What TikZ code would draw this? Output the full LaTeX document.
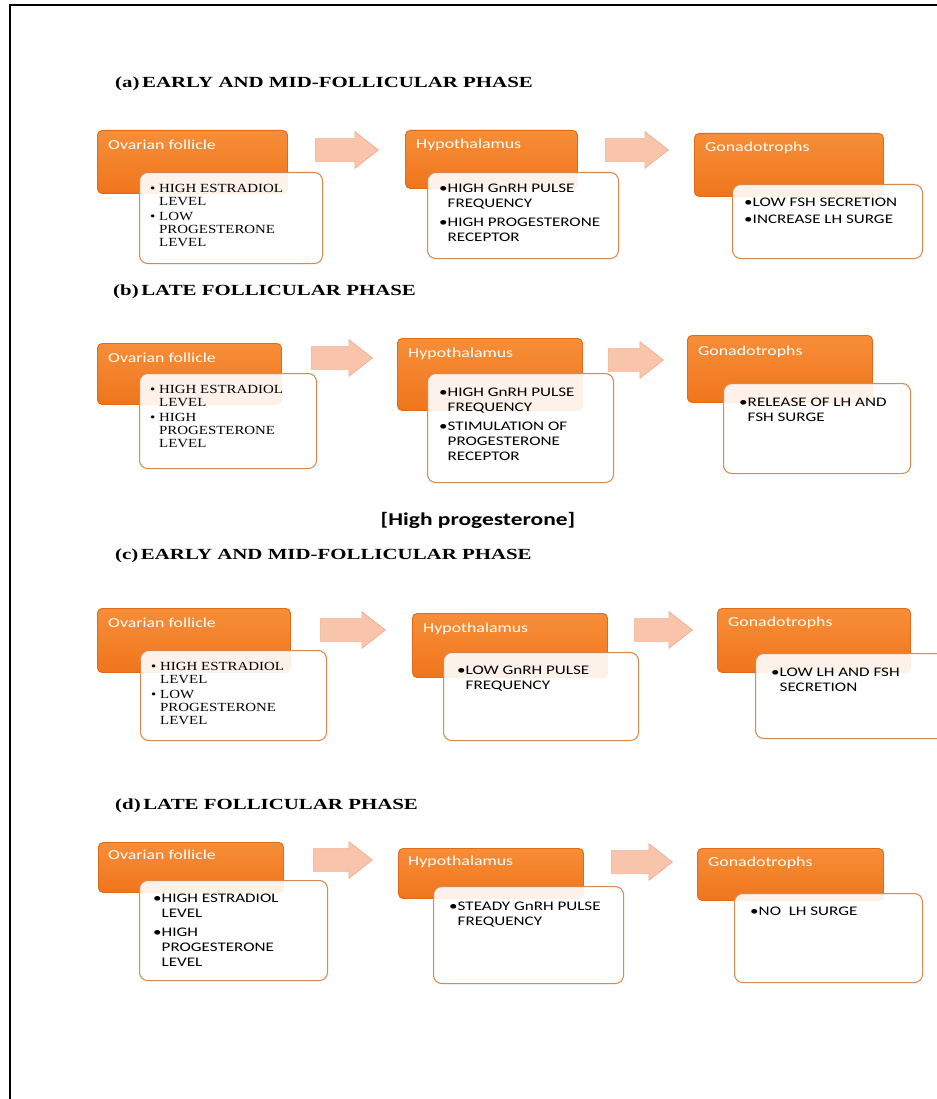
\documentclass[tikz,border=0pt]{standalone}
\usepackage{fontspec}
\usetikzlibrary{shapes.arrows}
\setmainfont{Liberation Serif}
\newfontfamily\boxfont[FakeStretch=1.3]{Carlito}
\newfontfamily\serfont[FakeStretch=1.2]{Liberation Serif}
\newfontfamily\headfont[FakeStretch=1.35]{Liberation Serif}
\newdimen\pxu \pxu=0.03cm

\definecolor{orangetop}{RGB}{247,142,56}
\definecolor{orangebot}{RGB}{239,117,28}
\definecolor{orangeedge}{RGB}{226,106,20}
\definecolor{wedge}{RGB}{218,136,78}
\definecolor{arrowfill}{RGB}{249,196,172}
\definecolor{arrowedge}{RGB}{242,174,146}

\tikzset{
  obox/.style={draw=orangeedge, line width=0.8pt, top color=orangetop, bottom color=orangebot,
    rounded corners=4pt, anchor=north west, inner sep=0pt},
  otitle/.style={anchor=west, inner sep=0pt, text=white, font=\boxfont\fontsize{11.7}{14}\selectfont},
  wbox/.style={draw=wedge, line width=0.9pt, fill=white, fill opacity=0.9, rounded corners=7pt,
    anchor=north west, inner sep=0pt},
  slist/.style={anchor=north west, inner sep=0pt, align=left, font=\boxfont\fontsize{11.2}{13}\selectfont},
  rlist/.style={anchor=north west, inner sep=0pt, align=left, font=\serfont\fontsize{10.6}{11}\selectfont},
  harrow/.style={single arrow, draw=arrowedge, fill=arrowfill, line width=0.6pt, anchor=west,
    inner xsep=0pt, inner ysep=11\pxu, single arrow head extend=7\pxu, single arrow tip angle=76},
  phase/.style={anchor=west, inner sep=0pt, font=\headfont\bfseries\fontsize{13.2}{16}\selectfont},
}

\begin{document}
\begin{tikzpicture}[x=0.03cm, y=-0.03cm]
  \useasboundingbox (0,0) rectangle (937,1099);
  \draw[line width=2\pxu] (10,1099) -- (10,5) -- (937,5);

  % (a) early and mid-follicular phase
  \node[phase] (head-a) at (115,84) {(a)\,EARLY AND MID-FOLLICULAR PHASE};
  \node[obox, minimum width=190\pxu, minimum height=63\pxu] (fol-a) at (97,130) {};
  \node[otitle] (fol-a-t) at ([xshift=11\pxu, yshift=-15\pxu]fol-a.north west) {Ovarian follicle};
  \node[wbox, minimum width=183\pxu, minimum height=91\pxu] (fol-a-w) at (139,172) {};
  \node[rlist] (fol-a-l) at ([xshift=11\pxu, yshift=-12\pxu]fol-a-w.north west)
    {\textbullet\ HIGH ESTRADIOL\\\phantom{\textbullet\ }LEVEL\\[2\pxu]\textbullet\ LOW\\\phantom{\textbullet\ }PROGESTERONE\\\phantom{\textbullet\ }LEVEL};
  \node[harrow, minimum height=63\pxu] (arr-a1) at (315,150) {};
  \node[obox, minimum width=172\pxu, minimum height=58\pxu] (hyp-a) at (405,130) {};
  \node[otitle] (hyp-a-t) at ([xshift=11\pxu, yshift=-15\pxu]hyp-a.north west) {Hypothalamus};
  \node[wbox, minimum width=191\pxu, minimum height=86\pxu] (hyp-a-w) at (427,172) {};
  \node[slist] (hyp-a-l) at ([xshift=12\pxu, yshift=-12\pxu]hyp-a-w.north west)
    {\textbullet HIGH GnRH PULSE\\\phantom{\textbullet}FREQUENCY\\[3\pxu]\textbullet HIGH PROGESTERONE\\\phantom{\textbullet}RECEPTOR};
  \node[harrow, minimum height=63\pxu] (arr-a2) at (605,150) {};
  \node[obox, minimum width=189\pxu, minimum height=63\pxu] (gon-a) at (694,133) {};
  \node[otitle] (gon-a-t) at ([xshift=11\pxu, yshift=-15\pxu]gon-a.north west) {Gonadotrophs};
  \node[wbox, minimum width=190\pxu, minimum height=74\pxu] (gon-a-w) at (732,184) {};
  \node[slist] (gon-a-l) at ([xshift=12\pxu, yshift=-14\pxu]gon-a-w.north west)
    {\textbullet LOW FSH SECRETION\\[2\pxu]\textbullet INCREASE LH SURGE};

  % (b) late follicular phase
  \node[phase] (head-b) at (113,292) {(b)\,LATE FOLLICULAR PHASE};
  \node[obox, minimum width=184\pxu, minimum height=61\pxu] (fol-b) at (97,343) {};
  \node[otitle] (fol-b-t) at ([xshift=11\pxu, yshift=-15\pxu]fol-b.north west) {Ovarian follicle};
  \node[wbox, minimum width=177\pxu, minimum height=95\pxu] (fol-b-w) at (139,373) {};
  \node[rlist] (fol-b-l) at ([xshift=11\pxu, yshift=-12\pxu]fol-b-w.north west)
    {\textbullet\ HIGH ESTRADIOL\\\phantom{\textbullet\ }LEVEL\\[2\pxu]\textbullet\ HIGH\\\phantom{\textbullet\ }PROGESTERONE\\\phantom{\textbullet\ }LEVEL};
  \node[harrow, minimum height=61\pxu] (arr-b1) at (311,358) {};
  \node[obox, minimum width=185\pxu, minimum height=72\pxu] (hyp-b) at (397,338) {};
  \node[otitle] (hyp-b-t) at ([xshift=11\pxu, yshift=-16\pxu]hyp-b.north west) {Hypothalamus};
  \node[wbox, minimum width=186\pxu, minimum height=109\pxu] (hyp-b-w) at (427,373) {};
  \node[slist] (hyp-b-l) at ([xshift=12\pxu, yshift=-15\pxu]hyp-b-w.north west)
    {\textbullet HIGH GnRH PULSE\\\phantom{\textbullet}FREQUENCY\\[3\pxu]\textbullet STIMULATION OF\\\phantom{\textbullet}PROGESTERONE\\\phantom{\textbullet}RECEPTOR};
  \node[harrow, minimum height=55\pxu] (arr-b2) at (608,360) {};
  \node[obox, minimum width=185\pxu, minimum height=67\pxu] (gon-b) at (687,335) {};
  \node[otitle] (gon-b-t) at ([xshift=11\pxu, yshift=-17\pxu]gon-b.north west) {Gonadotrophs};
  \node[wbox, minimum width=187\pxu, minimum height=90\pxu] (gon-b-w) at (723,383) {};
  \node[slist] (gon-b-l) at ([xshift=16\pxu, yshift=-15\pxu]gon-b-w.north west)
    {\textbullet RELEASE OF LH AND\\\phantom{\textbullet}FSH SURGE};

  \node[font=\boxfont\bfseries\fontsize{15.4}{18}\selectfont] (high-prog) at (478,520) {[High progesterone]};

  % (c) early and mid-follicular phase
  \node[phase] (head-c) at (115,556) {(c)\,EARLY AND MID-FOLLICULAR PHASE};
  \node[obox, minimum width=193\pxu, minimum height=64\pxu] (fol-c) at (97,608) {};
  \node[otitle] (fol-c-t) at ([xshift=11\pxu, yshift=-15\pxu]fol-c.north west) {Ovarian follicle};
  \node[wbox, minimum width=186\pxu, minimum height=90\pxu] (fol-c-w) at (140,650) {};
  \node[rlist] (fol-c-l) at ([xshift=11\pxu, yshift=-12\pxu]fol-c-w.north west)
    {\textbullet\ HIGH ESTRADIOL\\\phantom{\textbullet\ }LEVEL\\[2\pxu]\textbullet\ LOW\\\phantom{\textbullet\ }PROGESTERONE\\\phantom{\textbullet\ }LEVEL};
  \node[harrow, minimum height=65\pxu] (arr-c1) at (320,630) {};
  \node[obox, minimum width=195\pxu, minimum height=64\pxu] (hyp-c) at (412,613) {};
  \node[otitle] (hyp-c-t) at ([xshift=11\pxu, yshift=-16\pxu]hyp-c.north west) {Hypothalamus};
  \node[wbox, minimum width=195\pxu, minimum height=88\pxu] (hyp-c-w) at (443,652) {};
  \node[slist] (hyp-c-l) at ([xshift=14\pxu, yshift=-14\pxu]hyp-c-w.north west)
    {\textbullet LOW GnRH PULSE\\\phantom{\textbullet}FREQUENCY};
  \node[harrow, minimum height=58\pxu] (arr-c2) at (634,630) {};
  \node[obox, minimum width=193\pxu, minimum height=64\pxu] (gon-c) at (717,608) {};
  \node[otitle] (gon-c-t) at ([xshift=11\pxu, yshift=-15\pxu]gon-c.north west) {Gonadotrophs};
  \node[wbox, minimum width=200\pxu, minimum height=85\pxu] (gon-c-w) at (755,653) {};
  \node[slist] (gon-c-l) at ([xshift=16\pxu, yshift=-15\pxu]gon-c-w.north west)
    {\textbullet LOW LH AND FSH\\\phantom{\textbullet}SECRETION};

  % (d) late follicular phase
  \node[phase] (head-d) at (115,806) {(d)\,LATE FOLLICULAR PHASE};
  \node[obox, minimum width=185\pxu, minimum height=50\pxu] (fol-d) at (98,842) {};
  \node[otitle] (fol-d-t) at ([xshift=10\pxu, yshift=-13\pxu]fol-d.north west) {Ovarian follicle};
  \node[wbox, minimum width=188\pxu, minimum height=100\pxu] (fol-d-w) at (139,880) {};
  \node[slist] (fol-d-l) at ([xshift=14\pxu, yshift=-14\pxu]fol-d-w.north west)
    {\textbullet HIGH ESTRADIOL\\\phantom{\textbullet}LEVEL\\[3\pxu]\textbullet HIGH\\\phantom{\textbullet}PROGESTERONE\\\phantom{\textbullet}LEVEL};
  \node[harrow, minimum height=59\pxu] (arr-d1) at (313,860) {};
  \node[obox, minimum width=185\pxu, minimum height=50\pxu] (hyp-d) at (398,848) {};
  \node[otitle] (hyp-d-t) at ([xshift=10\pxu, yshift=-14\pxu]hyp-d.north west) {Hypothalamus};
  \node[wbox, minimum width=190\pxu, minimum height=97\pxu] (hyp-d-w) at (433,886) {};
  \node[slist] (hyp-d-l) at ([xshift=16\pxu, yshift=-16\pxu]hyp-d-w.north west)
    {\textbullet STEADY GnRH PULSE\\\phantom{\textbullet}FREQUENCY};
  \node[harrow, minimum height=61\pxu] (arr-d2) at (611,862) {};
  \node[obox, minimum width=186\pxu, minimum height=52\pxu] (gon-d) at (697,848) {};
  \node[otitle] (gon-d-t) at ([xshift=11\pxu, yshift=-15\pxu]gon-d.north west) {Gonadotrophs};
  \node[wbox, minimum width=188\pxu, minimum height=89\pxu] (gon-d-w) at (734,893) {};
  \node[slist] (gon-d-l) at ([xshift=16\pxu, yshift=-14\pxu]gon-d-w.north west)
    {\textbullet NO\ \ LH SURGE};
\end{tikzpicture}
\end{document}
